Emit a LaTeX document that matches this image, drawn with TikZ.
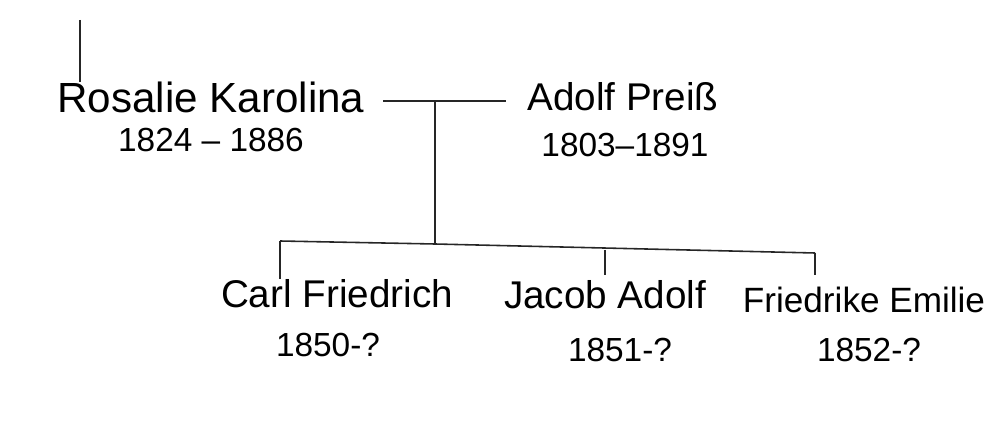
\documentclass[tikz,border=0pt]{standalone}
\usepackage{fontspec}
\setmainfont{Liberation Sans}
\usetikzlibrary{positioning}

\tikzset{
  person/.style={inner sep=1pt, font=\fontsize{22}{26}\selectfont},
  years/.style={inner sep=1pt, font=\fontsize{19}{22}\selectfont},
  tree/.style={line width=0.9pt, black!85}
}

\begin{document}
\begin{tikzpicture}[x=0.02cm, y=-0.02cm]
\useasboundingbox (0,0) rectangle (994,442);

% Parents
\node[person, font=\fontsize{24}{26}\selectfont] (rosalie) at (211,97) {Rosalie Karolina};
\node[years] (rosalieY) at (211,140) {1824 -- 1886};
\node[person] (adolf) at (623,97) {Adolf Preiß};
\node[years] (adolfY) at (625,145) {1803--1891};

% Children
\node[person] (carl) at (337,294) {Carl Friedrich};
\node[years] (carlY) at (328,345) {1850-?};
\node[person] (jacob) at (605,295) {Jacob Adolf};
\node[years] (jacobY) at (620,350) {1851-?};
\node[person, font=\fontsize{20}{24}\selectfont] (friedrike) at (864,300) {Friedrike Emilie};
\node[years] (friedrikeY) at (869,350) {1852-?};

% Line to the parents above
\coordinate (up) at (80,20);
\draw[tree] (up) -- (80,82);

% Marriage and descent
\coordinate (wedL) at (383,101);
\coordinate (wedR) at (506,101);
\coordinate (wed) at (435,101);
\coordinate (sibL) at (280,241);
\coordinate (sib) at (435,244);
\coordinate (sibR) at (815,253);
\draw[tree] (wedL) -- (wedR);
\draw[tree] (wed) -- (sib);
\draw[tree] (sibL) -- (sib) -- (sibR);

% Drops to the children
\draw[tree] (sibL) -- (280,279);
\draw[tree] (605,250) -- (605,275);
\draw[tree] (sibR) -- (815,275);
\end{tikzpicture}
\end{document}
